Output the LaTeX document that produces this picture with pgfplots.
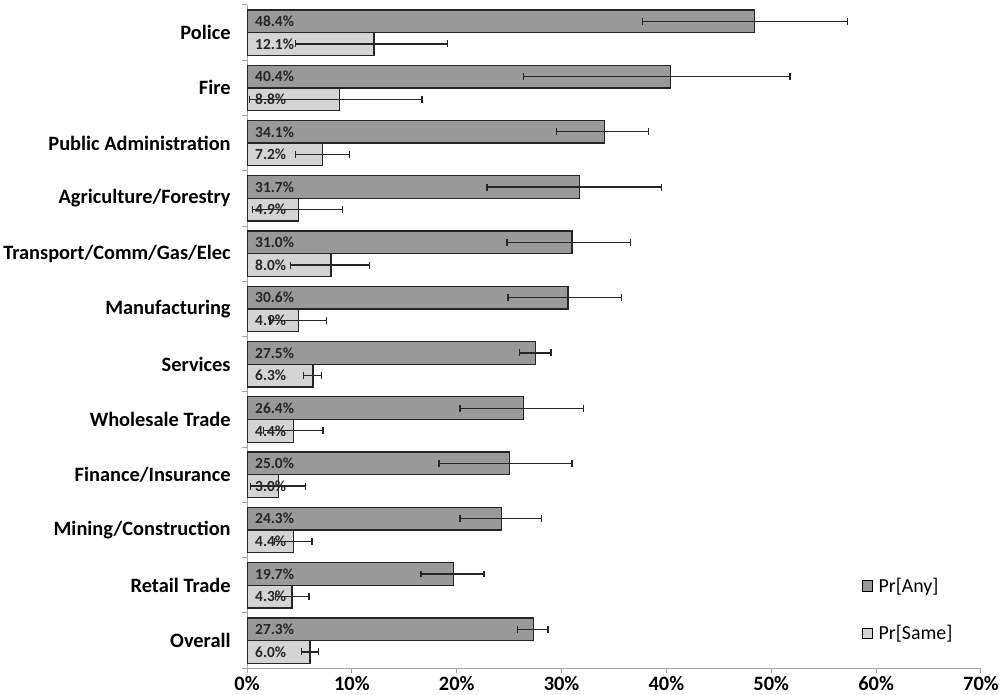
\documentclass[border=0pt]{standalone}
\usepackage{pgfplots}
\pgfplotsset{compat=1.18}
\usepackage{pgfplotstable}
\usepackage{fontspec}
\setmainfont{Carlito}

\definecolor{anyfill}{RGB}{153,153,153}
\definecolor{samefill}{RGB}{212,212,212}
\definecolor{axisgray}{RGB}{165,165,165}

% idx: 0 = Overall (bottom) ... 11 = Police (top)
% *p / *m = error plus / minus
\pgfplotstableread{
idx any  anyp anym same samep samem
11  48.4 8.9  10.7 12.1 7.0   7.5
10  40.4 11.4 14.0 8.8  7.9   8.6
9   34.1 4.2  4.6  7.2  2.6   2.55
8   31.7 7.8  8.8  4.9  4.2   4.4
7   31.0 5.6  6.2  8.0  3.7   3.85
6   30.6 5.1  5.7  4.9  2.7   2.7
5   27.5 1.5  1.5  6.3  0.8   0.95
4   26.4 5.7  6.1  4.4  2.85  2.8
3   25.0 6.0  6.7  3.0  2.6   2.65
2   24.3 3.8  4.0  4.4  1.8   1.8
1   19.7 2.9  3.1  4.3  1.6   1.6
0   27.3 1.4  1.5  6.0  0.8   0.8
}\data

\begin{document}
\begin{tikzpicture}
\begin{axis}[
    xbar,
    scale only axis,
    width=738pt, height=667pt,
    xmin=0, xmax=70,
    ymin=-0.5, ymax=11.5,
    bar width=0.41,
    axis lines*=left,
    axis line style={axisgray, line width=1pt},
    xtick={0,10,...,70},
    minor xtick={0,10,...,70},
    xticklabel={\pgfmathprintnumber{\tick}\%},
    ytick={0,...,11},
    yticklabels={Overall,Retail Trade,Mining/Construction,Finance/Insurance,Wholesale Trade,Services,Manufacturing,Transport/Comm/Gas/Elec,Agriculture/Forestry,Public Administration,Fire,Police},
    minor ytick={-0.5,0.5,...,11.5},
    tick align=outside,
    major tick length=0pt,
    minor tick length=5pt,
    minor tick style={axisgray, line width=1pt},
    ticklabel style={font=\fontsize{20.5}{24}\selectfont\bfseries},
    yticklabel style={xshift=-13pt},
    xticklabel style={yshift=-5pt},
    /pgf/number format/assume math mode=true,
    legend style={at={(0.837,0.0885)}, anchor=west, draw=none, fill=none,
        inner sep=0pt, row sep=28pt, font=\fontsize{20}{24}\selectfont,
        cells={anchor=west}},
    legend image code/.code={\draw[#1, draw=black, line width=0.8pt] (0pt,-5.5pt) rectangle (11pt,5.5pt);},
    ]
% bars
\addplot[fill=anyfill, draw=black!85, line width=1.3pt, bar shift=0.205]
    table[x=any, y=idx] {\data};
\addplot[fill=samefill, draw=black!85, line width=1.3pt, bar shift=-0.205]
    table[x=same, y=idx] {\data};
\legend{\,Pr[Any], \,Pr[Same]}
% value labels at the base of each bar
\addplot[draw=none, fill=none, bar shift=0.205, forget plot,
    point meta=explicit,
    nodes near coords={\pgfmathprintnumber[fixed,fixed zerofill,precision=1]{\pgfplotspointmeta}\%},
    every node near coord/.append style={anchor=west, inner sep=0pt, xshift=8pt,
        font=\fontsize{15.5}{18}\selectfont\bfseries, text=black!85}]
    table[x expr=0, y=idx, meta=any] {\data};
\addplot[draw=none, fill=none, bar shift=-0.205, forget plot,
    point meta=explicit,
    nodes near coords={\pgfmathprintnumber[fixed,fixed zerofill,precision=1]{\pgfplotspointmeta}\%},
    every node near coord/.append style={anchor=west, inner sep=0pt, xshift=8pt,
        font=\fontsize{15.5}{18}\selectfont\bfseries, text=black!85}]
    table[x expr=0, y=idx, meta=same] {\data};
% error bars
\addplot[draw=none, fill=none, bar shift=0.205, forget plot,
    error bars/.cd, x dir=both, x explicit,
    error bar style={draw=black!85, line width=1.3pt},
    error mark options={rotate=90, draw=black!85, line width=1.3pt, mark size=3.5pt}]
    table[x=any, y=idx, x error plus=anyp, x error minus=anym] {\data};
\addplot[draw=none, fill=none, bar shift=-0.205, forget plot,
    error bars/.cd, x dir=both, x explicit,
    error bar style={draw=black!85, line width=1.3pt},
    error mark options={rotate=90, draw=black!85, line width=1.3pt, mark size=3.5pt}]
    table[x=same, y=idx, x error plus=samep, x error minus=samem] {\data};
\end{axis}
\path ([yshift=5pt]current axis.north);
\end{tikzpicture}
\end{document}
